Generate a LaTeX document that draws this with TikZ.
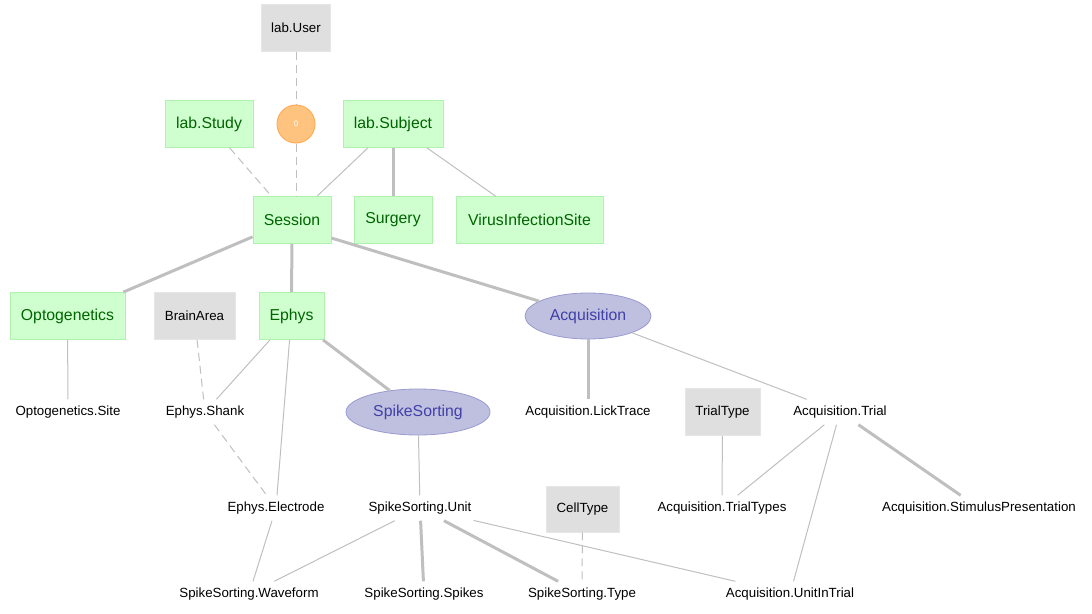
\documentclass[tikz,border=0pt]{standalone}
\usepackage{fontspec}
\setmainfont{Liberation Sans}
\usetikzlibrary{shapes.geometric}
\definecolor{mfill}{HTML}{CFFFCF}
\definecolor{mdraw}{HTML}{AEF2AE}
\definecolor{mtext}{HTML}{006400}
\definecolor{lfill}{HTML}{DFDFDF}
\definecolor{ldraw}{HTML}{E6E6E6}
\definecolor{cfill}{HTML}{BFBFDF}
\definecolor{cdraw}{HTML}{9A9AD0}
\definecolor{ctext}{HTML}{4040A8}
\definecolor{afill}{HTML}{FFC380}
\definecolor{adraw}{HTML}{FFAE55}
\definecolor{edge}{HTML}{BFBFBF}
\tikzset{
  manual/.style={rectangle, fill=mfill, draw=mdraw, line width=0.8pt, text=mtext,
    font=\fontsize{15.8}{18}\selectfont, inner sep=0pt, minimum height=47pt},
  lookup/.style={rectangle, fill=lfill, draw=ldraw, line width=0.8pt, text=black,
    font=\fontsize{13.3}{15}\selectfont, inner sep=0pt, minimum height=47pt},
  computed/.style={ellipse, fill=cfill, draw=cdraw, line width=0.8pt, text=ctext,
    font=\fontsize{15.8}{18}\selectfont, inner sep=0pt, minimum height=46pt},
  part/.style={rectangle, text=black, font=\fontsize{13.3}{15}\selectfont,
    inner xsep=2pt, inner ysep=0pt, minimum height=25pt},
  alias/.style={circle, fill=afill, draw=adraw, line width=1pt, text=white,
    font=\fontsize{8}{9}\selectfont, inner sep=0pt, minimum size=38pt},
  prim/.style={draw=edge, line width=3pt},
  sec/.style={draw=edge, line width=1pt},
  dep/.style={draw=edge, line width=1pt, dash pattern=on 8pt off 5pt},
}
\begin{document}
\begin{tikzpicture}[x=1pt, y=-1pt]
\useasboundingbox (0,0) rectangle (1092,613);
% nodes
\node[lookup, minimum width=69pt] (user) at (296,28) {lab.User};
\node[alias] (alias0) at (296,124) {0};
\node[manual, minimum width=88pt] (study) at (209,124) {lab.Study};
\node[manual, minimum width=100pt] (subject) at (393,124) {lab.Subject};
\node[manual, minimum width=78pt] (session) at (292,220) {Session};
\node[manual, minimum width=78pt] (surgery) at (393,220) {Surgery};
\node[manual, minimum width=147pt] (virus) at (529.5,220) {VirusInfectionSite};
\node[manual, minimum width=115pt] (opto) at (67.5,316) {Optogenetics};
\node[lookup, minimum width=81pt] (brain) at (194.5,316) {BrainArea};
\node[manual, minimum width=65pt] (ephys) at (291.5,316) {Ephys};
\node[computed, minimum width=126pt] (acq) at (588,316) {Acquisition};
\node[computed, minimum width=144pt] (spike) at (418,412) {SpikeSorting};
\node[part] (optosite) at (68,412) {Optogenetics.Site};
\node[part] (shank) at (205,412) {Ephys.Shank};
\node[part] (lick) at (588,412) {Acquisition.LickTrace};
\node[lookup, minimum width=75pt] (trialtype) at (722.5,412) {TrialType};
\node[part] (trial) at (840,412) {Acquisition.Trial};
\node[part] (electrode) at (276,508) {Ephys.Electrode};
\node[part] (unit) at (420,508) {SpikeSorting.Unit};
\node[lookup, minimum width=73pt, minimum height=46pt] (celltype) at (582.5,509) {CellType};
\node[part] (trialtypes) at (722,508) {Acquisition.TrialTypes};
\node[part] (stim) at (979,508) {Acquisition.StimulusPresentation};
\node[part] (waveform) at (249,594) {SpikeSorting.Waveform};
\node[part] (spikes) at (424,594) {SpikeSorting.Spikes};
\node[part] (sstype) at (582,594) {SpikeSorting.Type};
\node[part] (uit) at (790,594) {Acquisition.UnitInTrial};
% edges
\draw[dep] (user) -- (alias0);
\draw[dep] (alias0.south) -- (alias0.south |- session.north);
\draw[dep] (study) -- (session);
\draw[sec] (subject) -- (session);
\draw[prim] (subject) -- (surgery);
\draw[sec] (subject) -- (virus);
\draw[prim] (session) -- (opto);
\draw[prim] (session) -- (ephys);
\coordinate (sessAq) at ([yshift=-18pt]session.east);
\draw[prim] (sessAq) -- (acq);
\draw[sec] (opto) -- (optosite);
\draw[dep] (brain) -- (shank);
\draw[dep] (shank) -- (electrode);
\draw[sec] (ephys) -- (shank);
\draw[sec] (ephys) -- (electrode);
\draw[prim] (ephys) -- (spike);
\draw[prim] (acq) -- (lick);
\draw[sec] (acq) -- (trial);
\draw[sec] (trialtype) -- (trialtypes);
\draw[sec] (trial) -- (trialtypes);
\draw[sec] (trial) -- (uit);
\draw[prim] (trial) -- (stim);
\draw[sec] (spike) -- (unit);
\draw[sec] (electrode) -- (waveform);
\draw[sec] (unit) -- (waveform);
\draw[prim] (unit) -- (spikes);
\draw[prim] (unit) -- (sstype);
\draw[sec] (unit) -- (uit);
\draw[dep] (celltype) -- (sstype);
\end{tikzpicture}
\end{document}
